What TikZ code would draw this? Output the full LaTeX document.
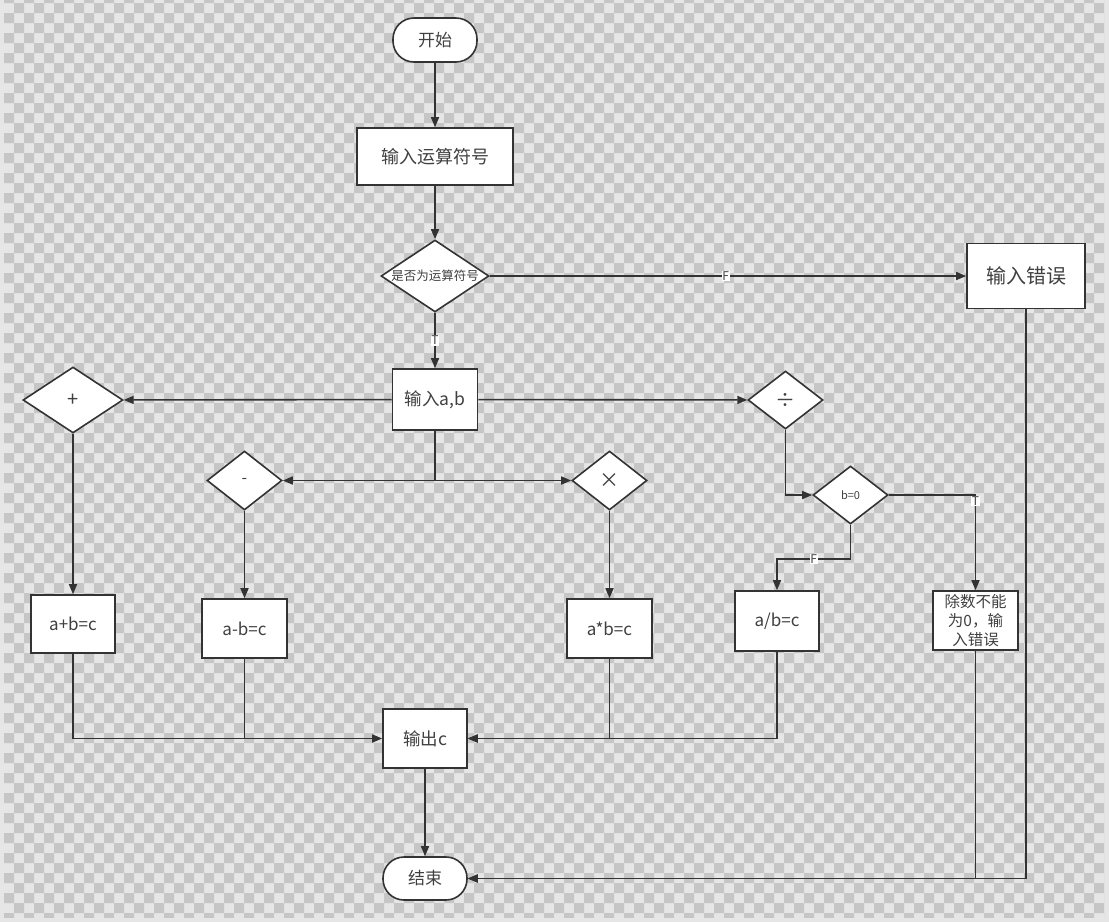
\documentclass[tikz,border=0pt]{standalone}
\usepackage{fontspec}
\newfontfamily\cjk{Noto Sans CJK SC}
\usetikzlibrary{shapes.geometric,arrows.meta}
\definecolor{linegray}{HTML}{333333}
\definecolor{textgray}{HTML}{404040}
\definecolor{checklight}{HTML}{E6E6E6}
\definecolor{checkdark}{HTML}{C6C6C6}
\tikzset{
  box/.style={draw=linegray, line width=1.6pt, fill=white, text=textgray, inner sep=0pt,
    font=\cjk\fontsize{17}{20}\selectfont},
  term/.style={box, rounded corners=21pt},
  proc/.style={box},
  choice/.style={box, diamond, font=\cjk\fontsize{20}{22}\selectfont},
  flow/.style={draw=linegray, line width=1.6pt, -{Triangle[length=10pt,width=8pt]}},
  plain/.style={draw=linegray, line width=1.6pt},
  flag/.style={fill=white, text=textgray, inner sep=0.8pt, font=\cjk\fontsize{12}{13}\selectfont}
}
\begin{document}
\begin{tikzpicture}[x=1pt,y=-1pt]
    \useasboundingbox (0,0) rectangle (1109,922);

    % Background
    \fill[checklight] (0,0) rectangle (1109,922);
    \begin{scope}
        \clip (4,0) rectangle (1104,917);
        \fill[checkdark] \foreach \i in {0,2,...,110} {\foreach \j in {0,2,...,92}
            {(4+10*\i,-7+10*\j) rectangle ++(10,10) (14+10*\i,3+10*\j) rectangle ++(10,10)}};
    \end{scope}

    % Nodes
    \node[term, minimum width=84pt, minimum height=44pt] (start) at (435,40) {开始};
    \node[proc, minimum width=156pt, minimum height=57pt, font=\cjk\fontsize{18}{21}\selectfont] (input) at (435,156.5) {输入运算符号};
    \node[choice, inner xsep=-16pt, inner ysep=-2pt, minimum width=108pt, minimum height=72pt, font=\cjk\fontsize{12.5}{14}\selectfont] (check) at (435,276) {是否为运算符号};
    \node[proc, minimum width=118pt, minimum height=65pt, font=\cjk\fontsize{20}{23}\selectfont] (err) at (1026,276) {输入错误};
    \node[proc, minimum width=85pt, minimum height=61pt, font=\cjk\fontsize{17.5}{20}\selectfont] (ab) at (435,399.5) {输入a,b};

    \node[choice, minimum width=100pt, minimum height=66pt] (plus) at (73,400) {+};
    \node[choice, minimum width=75pt, minimum height=58pt] (div) at (785.5,400) {÷};
    \node[choice, minimum width=75pt, minimum height=59pt, font=\cjk\fontsize{16}{18}\selectfont] (minus) at (244.5,480.5) {-};
    \node[choice, minimum width=75pt, minimum height=59pt] (times) at (609.5,480.5) {×};
    \node[choice, minimum width=75pt, minimum height=58pt, font=\cjk\fontsize{11}{13}\selectfont] (bzero) at (850.5,495) {b=0};

    \node[proc, minimum width=84pt, minimum height=58pt] (sum) at (73,624) {a+b=c};
    \node[proc, minimum width=85pt, minimum height=59pt] (diff) at (244.5,628.5) {a-b=c};
    \node[proc, minimum width=85pt, minimum height=59pt] (prod) at (609.5,628.5) {a*b=c};
    \node[proc, minimum width=84pt, minimum height=60pt] (quot) at (777,621) {a/b=c};
    \node[proc, minimum width=85pt, minimum height=59pt, align=center, font=\cjk\fontsize{15.5}{19}\selectfont] (zeroerr) at (975.5,620.5) {除数不能\\为0，输\\入错误};

    \node[proc, minimum width=84pt, minimum height=59pt, font=\cjk\fontsize{17.5}{20}\selectfont] (out) at (425,738.5) {输出c};
    \node[term, minimum width=84pt, minimum height=43pt] (stop) at (425,878.5) {结束};

    % Connectors
    \draw[flow] (start) -- (input);
    \draw[flow] (input) -- (check);
    \draw[flow] (check) -- node[flag, pos=0.495] {F} (err);
    \draw[flow] (check) -- node[flag, pos=0.5] {T} (ab);
    \draw[flow] (ab) -- (plus);
    \draw[flow] (ab) -- (div);
    \draw[flow] (ab.south) |- (minus.east);
    \draw[flow] (ab.south) |- (times.west);
    \draw[flow] (div.south) |- (bzero.west);
    \draw[flow] (bzero.east) -| node[flag, pos=0.53] {T} (zeroerr.north);
    \draw[flow] (bzero.south) -- ++(0,34) -| node[flag, pos=0.25] {F} (quot.north);

    \draw[flow] (plus) -- (sum);
    \draw[flow] (minus) -- (diff);
    \draw[flow] (times) -- (prod);

    \draw[flow] (sum.south) |- (out.west);
    \draw[plain] (diff.south) -- (diff.south |- out.west);
    \draw[flow] (prod.south) |- (out.east);
    \draw[flow] (quot.south) |- (out.east);

    \draw[flow] (out) -- (stop);
    \draw[flow] (zeroerr.south) |- (stop.east);
    \draw[flow] (err.south) |- (stop.east);
\end{tikzpicture}
\end{document}
